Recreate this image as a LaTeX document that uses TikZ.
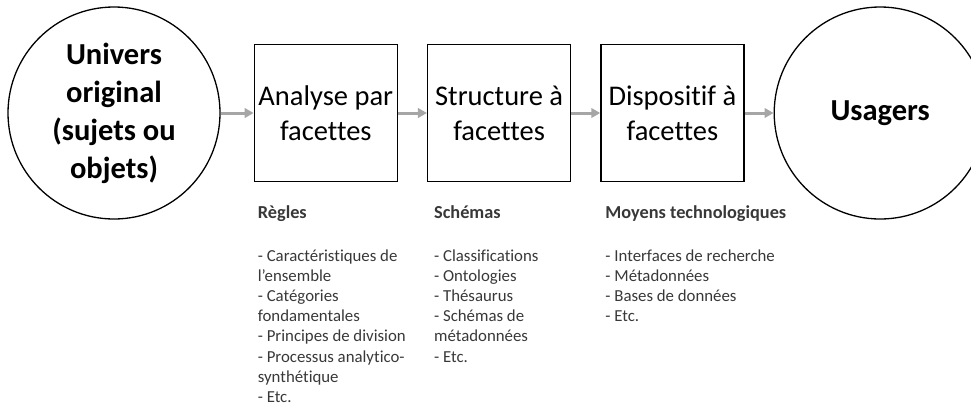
\documentclass[tikz,border=0pt]{standalone}
\usepackage{fontspec}
\setmainfont{Carlito}[Ligatures=NoCommon]
\usepackage{tikz}
\usetikzlibrary{positioning,arrows.meta}
\definecolor{grisfleche}{RGB}{166,166,166}
\definecolor{gristexte}{RGB}{56,56,56}

\begin{document}
\begin{tikzpicture}[x=1pt, y=1pt,
  rond/.style={circle, draw, line width=1.3pt, minimum size=212pt, inner sep=0pt, align=center, font=\bfseries\fontsize{30.5}{38}\selectfont},
  boite/.style={draw, line width=1.3pt, minimum width=143pt, minimum height=137pt, inner sep=0pt, align=center, font=\fontsize{28.5}{35}\selectfont},
  titre/.style={anchor=base west, inner sep=0pt, text=gristexte, font=\bfseries\fontsize{18.3}{20.2}\selectfont},
  liste/.style={anchor=north west, inner sep=0pt, align=left, text=gristexte, font=\fontsize{16.8}{20.2}\selectfont},
  fleche/.style={-{Triangle[length=9pt,width=9.5pt]}, line width=3pt, draw=grisfleche}]
  \useasboundingbox (0,0) rectangle (971,-408);

  \node[rond] (univers) at (114,-113) {Univers\\original\\(sujets ou\\objets)};
  \node[boite, right=33pt of univers] (analyse) {Analyse par\\facettes};
  \node[boite, right=29pt of analyse] (structure) {Structure à\\facettes};
  \node[boite, right=29pt of structure] (dispositif) {Dispositif à\\facettes};
  \node[rond, right=29pt of dispositif] (usagers) {Usagers};

  \path
  (univers) edge[fleche] (analyse)
  (analyse) edge[fleche] (structure)
  (structure) edge[fleche] (dispositif)
  (dispositif) edge[fleche] (usagers);

  \node[titre] (regles) at ([shift={(4,-36)}]analyse.south west) {Règles};
  \node[titre] (schemas) at ([shift={(7,-36)}]structure.south west) {Schémas};
  \node[titre] (moyens) at ([shift={(5,-36)}]dispositif.south west) {Moyens technologiques};

  \node[liste] (regles-liste) at ([yshift=-31]regles.base west)
  {- Caractéristiques de\\l’ensemble\\- Catégories\\fondamentales\\- Principes de division\\- Processus analytico-\\synthétique\\- Etc.};
  \node[liste] (schemas-liste) at ([yshift=-31]schemas.base west)
  {- Classifications\\- Ontologies\\- Thésaurus\\- Schémas de\\métadonnées\\- Etc.};
  \node[liste] (moyens-liste) at ([yshift=-31]moyens.base west)
  {- Interfaces de recherche\\- Métadonnées\\- Bases de données\\- Etc.};
\end{tikzpicture}
\end{document}
